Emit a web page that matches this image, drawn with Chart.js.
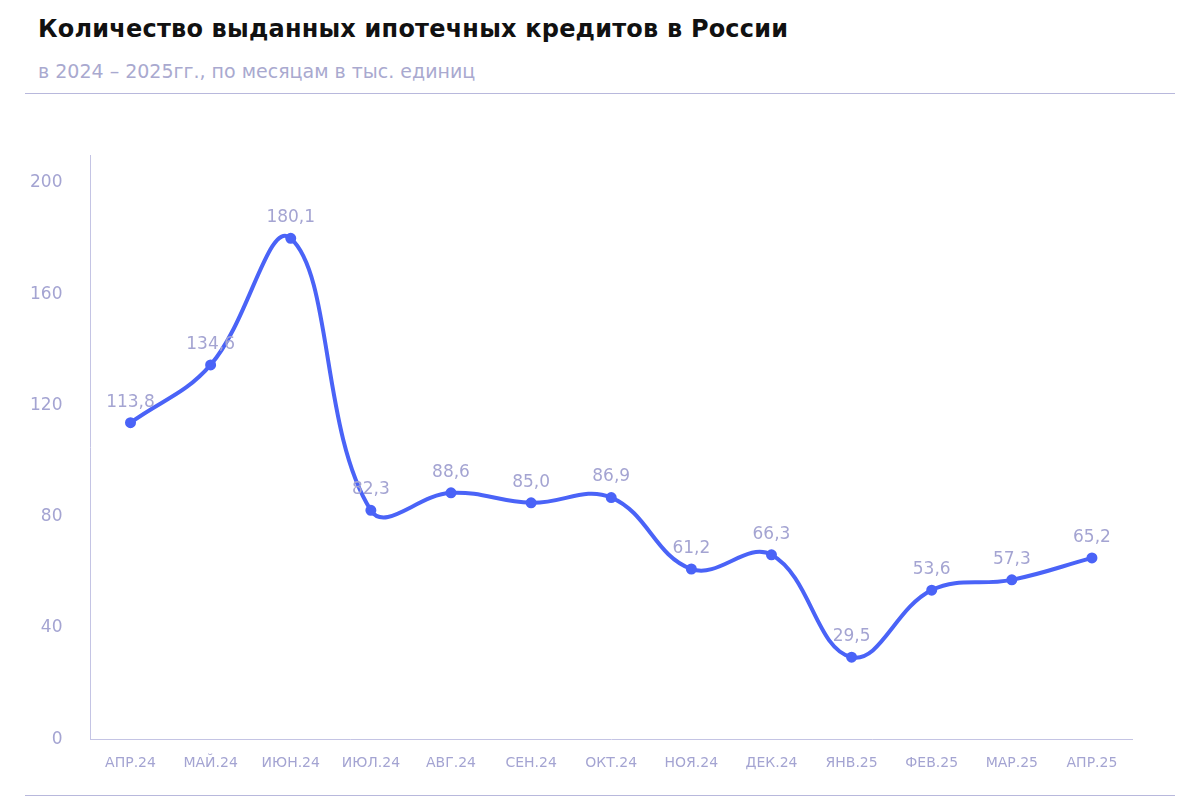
<!DOCTYPE html>
<html><head><meta charset="utf-8">
<script src="https://cdn.jsdelivr.net/npm/chart.js@4"></script>
<style>
body{margin:0;background:#fff;font-family:"DejaVu Sans",sans-serif;}
#title{position:absolute;left:38px;top:15px;font-size:24px;font-weight:700;color:#111;letter-spacing:0.2px;}
#sub{position:absolute;left:38px;top:60px;font-size:19px;color:#a9a9cf;}
.rule{position:absolute;left:25px;width:1150px;height:1px;background:#b8b8dc;}
#wrap{position:absolute;left:10px;top:125px;width:1130px;height:655px;}
</style></head><body>
<div id="title">Количество выданных ипотечных кредитов в России</div>
<div id="sub">в 2024 – 2025гг., по месяцам в тыс. единиц</div>
<div class="rule" style="top:93px"></div>
<div class="rule" style="top:795px"></div>
<div id="wrap"><canvas id="c"></canvas></div>
<script>
const months = ['АПР.24','МАЙ.24','ИЮН.24','ИЮЛ.24','АВГ.24','СЕН.24','ОКТ.24','НОЯ.24','ДЕК.24','ЯНВ.25','ФЕВ.25','МАР.25','АПР.25'];
const loans = [113.8,134.6,180.1,82.3,88.6,85.0,86.9,61.2,66.3,29.5,53.6,57.3,65.2];
const yTicks = [0,40,80,120,160,200];

const labelsPlugin = {
  id:'vals',
  afterDatasetsDraw(chart){
    const ctx = chart.ctx, meta = chart.getDatasetMeta(0);
    ctx.save();
    ctx.font = '17px "DejaVu Sans", sans-serif';
    ctx.fillStyle = '#a4a4d2';
    ctx.textAlign = 'center';
    ctx.textBaseline = 'bottom';
    meta.data.forEach((p,i)=>{
      ctx.fillText(loans[i].toFixed(1).replace('.',','), p.x, p.y - 12);
    });
    ctx.restore();
  }
};

new Chart(document.getElementById('c'), {
  type:'line',
  data:{labels:months, datasets:[{
    data:loans, borderColor:'#4a63f7', backgroundColor:'#4a63f7',
    borderWidth:4, tension:0.4, pointRadius:3.5, pointBackgroundColor:'#4a63f7'
  }]},
  options:{
    responsive:true, maintainAspectRatio:false, animation:false,
    layout:{padding:{top:30}},
    plugins:{legend:{display:false}, tooltip:{enabled:false}},
    scales:{
      x:{offset:true, grid:{display:false}, border:{color:'#c4c4e4'},
        ticks:{color:'#a4a4d2', font:{size:14, family:'"DejaVu Sans", sans-serif'}, maxRotation:0, autoSkip:false, padding:8}},
      y:{min:0, max:210, grid:{display:false}, border:{color:'#c4c4e4'},
        afterBuildTicks(s){ s.ticks = yTicks.map(v=>({value:v})); },
        ticks:{color:'#a4a4d2', font:{size:17, family:'"DejaVu Sans", sans-serif'}, padding:20}}
    }
  },
  plugins:[labelsPlugin]
});
</script>
</body></html>
